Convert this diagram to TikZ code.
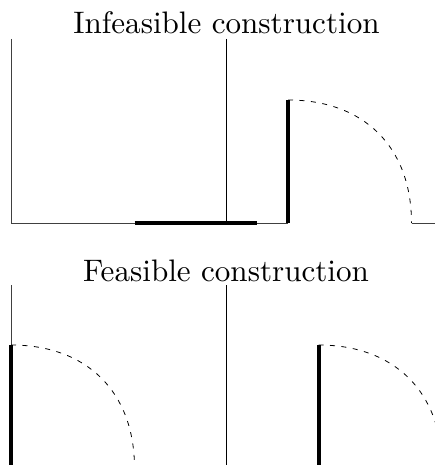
\documentclass[tikz,border=0pt]{standalone}
\tikzset{
  thinline/.style={line width=0.9pt,black!75},
  midline/.style={line width=0.9pt,black},
  thickline/.style={line width=4pt,black},
  arcline/.style={line width=0.8pt,black,dash pattern=on 5pt off 6.5pt},
  titletext/.style={inner sep=0pt,anchor=base,font=\fontsize{10}{12}\selectfont,scale=3.11}
}
\begin{document}
\begin{tikzpicture}[x=1pt,y=-1pt]
\useasboundingbox (0,0) rectangle (435,465);
\clip (0,0) rectangle (435,465);
% upper panel
\node[titletext] (t1) at (226.5,34) {Infeasible construction};
\coordinate (a0) at (11,39);
\coordinate (a1) at (11,223);
\coordinate (am) at (226.5,39);
\coordinate (amb) at (226.5,223);
\coordinate (as) at (134.5,223);
\coordinate (ae) at (257,223);
\coordinate (ac) at (288,223);
\coordinate (at) at (288,100);
\coordinate (ar) at (411.5,223);
\coordinate (aend) at (435,223);
\draw[thinline] (a0) -- (a1) -- (ac);
\draw[thinline] (ar) -- (aend);
\draw[midline] (am) -- (amb);
\draw[thickline] (as) -- (ae);
\draw[thickline] (ac) -- (at);
\draw[arcline] (at) .. controls +(76,0) and +(0,-76) .. (ar);
% lower panel
\node[titletext] (t2) at (226,281) {Feasible construction};
\coordinate (b0) at (11,285);
\coordinate (b1) at (11,345);
\coordinate (b2) at (11,465);
\coordinate (b3) at (134.5,468);
\coordinate (bm) at (226.5,285);
\coordinate (bmb) at (226.5,465);
\coordinate (c1) at (318.5,345);
\coordinate (c2) at (318.5,465);
\coordinate (c3) at (442,468);
\draw[thinline] (b0) -- (b1);
\draw[midline] (bm) -- (bmb);
\draw[thickline] (b1) -- (b2);
\draw[thickline] (c1) -- (c2);
\draw[arcline] (b1) .. controls +(76,0) and +(0,-76) .. (b3);
\draw[arcline] (c1) .. controls +(76,0) and +(0,-76) .. (c3);
\end{tikzpicture}
\end{document}
